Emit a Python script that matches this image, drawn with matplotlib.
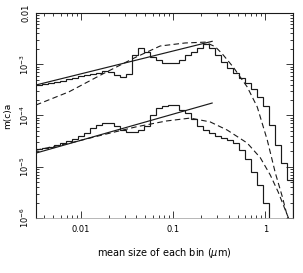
import numpy as np
import matplotlib
matplotlib.use("Agg")
import matplotlib.pyplot as plt
from matplotlib.ticker import LogLocator, NullFormatter, FixedLocator

# ---- data ----
bin_edges = np.geomspace(0.00325, 2.0, 44)

upper_hist = [3.9e-4, 4.1e-4, 4.3e-4, 4.5e-4, 4.8e-4, 5.2e-4, 5.4e-4, 5.8e-4,
              6.2e-4, 6.5e-4, 6.9e-4, 7.4e-4, 7.1e-4, 6.2e-4, 5.6e-4, 6.5e-4,
              1.5e-3, 2.1e-3, 1.7e-3, 1.4e-3, 1.2e-3, 1.06e-3, 1.06e-3, 1.06e-3,
              1.2e-3, 1.5e-3, 1.7e-3, 2.1e-3, 2.5e-3, 2.1e-3, 1.5e-3, 1.1e-3,
              8.5e-4, 6.7e-4, 5.4e-4, 4.3e-4, 3.3e-4, 2.3e-4, 1.5e-4, 6.5e-5,
              2.7e-5, 1.2e-5, 5.5e-6]

lower_hist = [2.2e-5, 2.3e-5, 2.4e-5, 2.7e-5, 2.9e-5, 3.2e-5, 3.5e-5, 4.0e-5,
              4.6e-5, 5.7e-5, 6.5e-5, 7.1e-5, 7.1e-5, 6.2e-5, 5.2e-5, 4.8e-5,
              4.8e-5, 5.2e-5, 6.2e-5, 1.0e-4, 1.4e-4, 1.5e-4, 1.6e-4, 1.6e-4,
              1.3e-4, 1.1e-4, 8.6e-5, 6.2e-5, 5.2e-5, 4.6e-5, 4.0e-5, 3.6e-5,
              3.3e-5, 2.9e-5, 2.1e-5, 1.4e-5, 7.9e-6, 4.4e-6, 2.0e-6, 1e-9,
              1e-9, 1e-9, 1e-9]

upper_fit_x = [0.00325, 0.265]
upper_fit_y = [3.94e-4, 2.8e-3]
lower_fit_x = [0.00325, 0.265]
lower_fit_y = [1.85e-5, 1.75e-4]

upper_dash_x = [0.00324, 0.00741, 0.0173, 0.0396, 0.0723, 0.135, 0.223, 0.286,
                0.341, 0.449, 0.637, 0.818, 1.052, 1.285, 1.531, 1.778]
upper_dash_y = [1.6e-4, 2.9e-4, 6.5e-4, 1.38e-3, 2.27e-3, 2.6e-3, 2.7e-3, 2.2e-3,
                1.6e-3, 8.8e-4, 3.6e-4, 1.47e-4, 3.3e-5, 7.6e-6, 2.6e-6, 9.1e-7]

lower_dash_x = [0.00324, 0.00759, 0.0173, 0.0396, 0.0839, 0.153, 0.252, 0.386,
                0.637, 0.883, 1.133, 1.383, 1.610, 1.824]
lower_dash_y = [2.1e-5, 2.9e-5, 4.2e-5, 6.0e-5, 7.8e-5, 8.9e-5, 7.5e-5, 5.2e-5,
                2.9e-5, 1.5e-5, 6.9e-6, 3.2e-6, 1.6e-6, 9.1e-7]

yticks = [1e-6, 1e-5, 1e-4, 1e-3, 1e-2]
ytick_labels = ['10$^{-6}$', '10$^{-5}$', '10$^{-4}$', '10$^{-3}$', '0.01']
xticks = [0.01, 0.1, 1]
xtick_labels = ['0.01', '0.1', '1']

# ---- figure ----
fig = plt.figure(figsize=(3.03, 2.73), dpi=100)
ax = fig.add_axes([0.119, 0.2015, 0.848, 0.7509])
ax.set_xscale('log')
ax.set_yscale('log')

col = '#1a1a1a'
lw = 0.85
for h in (upper_hist, lower_hist):
    vals = np.asarray(h)
    ax.stairs(vals, bin_edges, color=col, lw=lw, baseline=None)
    ax.plot([bin_edges[-1], bin_edges[-1]], [vals[-1], 1e-9], color=col, lw=lw)

ax.plot(upper_fit_x, upper_fit_y, color=col, lw=lw)
ax.plot(lower_fit_x, lower_fit_y, color=col, lw=lw)
ax.plot(upper_dash_x, upper_dash_y, color=col, lw=0.8, ls=(0, (5, 3)))
ax.plot(lower_dash_x, lower_dash_y, color=col, lw=0.8, ls=(0, (5, 3)))

ax.set_xlim(0.00325, 2.0)
ax.set_ylim(1e-6, 1e-2)

ax.yaxis.set_major_locator(FixedLocator(yticks))
ax.set_yticklabels(ytick_labels, rotation=90, va='center', fontsize=6)
ax.yaxis.set_minor_locator(LogLocator(base=10, subs=np.arange(2, 10)))
ax.yaxis.set_minor_formatter(NullFormatter())
ax.xaxis.set_major_locator(FixedLocator(xticks))
ax.set_xticklabels(xtick_labels, fontsize=6)
ax.xaxis.set_minor_locator(LogLocator(base=10, subs=np.arange(2, 10)))
ax.xaxis.set_minor_formatter(NullFormatter())

ax.tick_params(which='both', direction='in', top=True, right=True, width=0.6, color=col)
ax.tick_params(which='major', length=5, pad=5)
ax.tick_params(which='minor', length=2.5)
ax.tick_params(axis='y', which='major', pad=4)

for s in ax.spines.values():
    s.set_linewidth(0.8)
    s.set_color(col)
ax.spines['bottom'].set_color('#9a9a9a')
ax.spines['bottom'].set_linewidth(0.5)

ax.set_xlabel('mean size of each bin ($\\mu$m)', fontsize=7, labelpad=9)
ax.set_ylabel('m(c)a', fontsize=6.5, labelpad=4)

fig.savefig('out.png', dpi=100)
